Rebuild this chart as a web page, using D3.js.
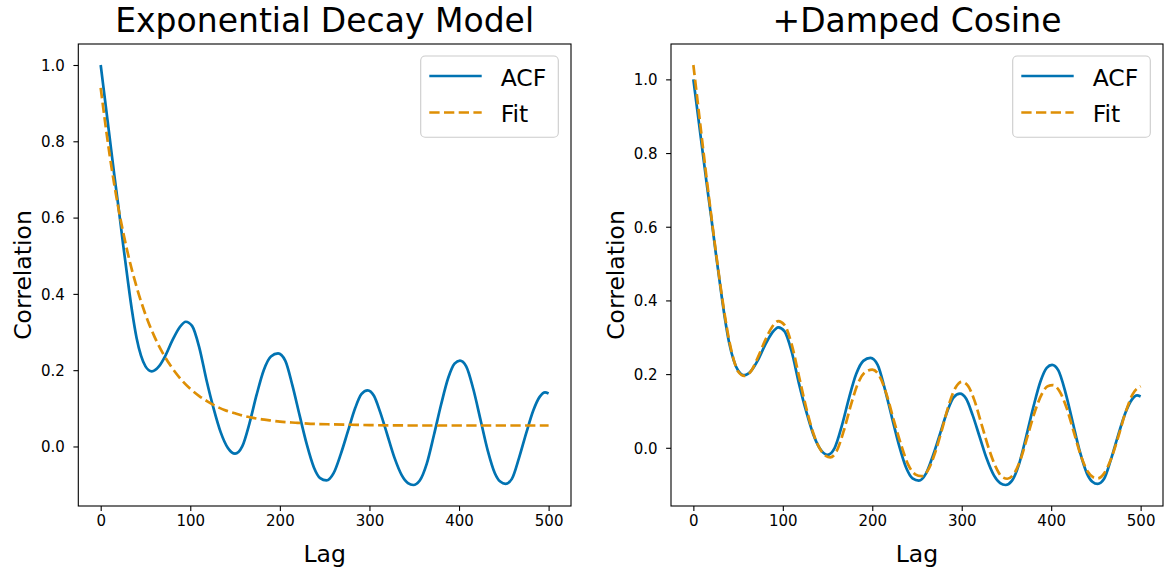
<!DOCTYPE html>
<html>
<head>
<meta charset="utf-8">
<script src="https://cdn.jsdelivr.net/npm/d3@7"></script>
<style>
  html, body { margin: 0; padding: 0; background: #fff; }
  svg { display: block; font-family: "DejaVu Sans", sans-serif; }
</style>
</head>
<body>
<svg id="chart" width="1172" height="575"></svg>
<script>
// ---------- data ----------
const acfLags = [0,5,10,15,20,25,30,35,40,45,50,57,65,72,80,88,95,102,110,118,126,134,142,150,158,166,174,182,190,198,206,214,222,230,238,245,252,260,268,276,284,291,298,305,312,320,328,336,343,349,356,364,372,380,388,395,401,408,416,424,432,440,446,452,459,467,475,483,490,496,500];
const acfValues = [1.000,0.905,0.810,0.715,0.625,0.530,0.440,0.355,0.285,0.238,0.210,0.197,0.210,0.237,0.278,0.312,0.327,0.316,0.260,0.175,0.100,0.037,-0.004,-0.019,0.000,0.060,0.135,0.200,0.236,0.244,0.225,0.160,0.082,0.006,-0.055,-0.083,-0.089,-0.070,-0.020,0.040,0.100,0.137,0.147,0.133,0.090,0.030,-0.030,-0.075,-0.096,-0.101,-0.090,-0.045,0.030,0.110,0.180,0.217,0.225,0.210,0.150,0.070,-0.010,-0.070,-0.092,-0.098,-0.085,-0.030,0.035,0.095,0.130,0.142,0.139];

const expFitLags = [0,10,20,30,40,50,60,70,80,90,100,110,120,130,140,150,160,170,180,190,200,220,240,260,280,300,350,400,450,500];
const expFitValues = [0.940,0.764,0.622,0.509,0.419,0.346,0.288,0.242,0.205,0.175,0.151,0.132,0.117,0.104,0.094,0.087,0.080,0.075,0.071,0.068,0.065,0.062,0.059,0.058,0.057,0.056,0.055,0.055,0.055,0.055];

const cosFitLags = [0,5,10,15,20,25,30,35,40,45,50,57,65,72,80,88,95,102,110,118,126,134,142,148,153,160,168,176,184,192,200,208,216,224,232,240,248,255,262,270,278,286,293,300,307,314,322,330,338,345,351,358,366,374,382,390,396,402,409,417,425,433,441,447,452,459,467,475,483,491,500];
const cosFitValues = [1.039,0.935,0.830,0.728,0.630,0.535,0.445,0.362,0.292,0.240,0.207,0.195,0.210,0.245,0.290,0.328,0.344,0.333,0.280,0.195,0.110,0.040,-0.005,-0.022,-0.026,-0.010,0.045,0.115,0.175,0.205,0.212,0.195,0.145,0.075,0.010,-0.045,-0.072,-0.077,-0.062,-0.015,0.050,0.120,0.163,0.179,0.168,0.130,0.065,0.000,-0.052,-0.079,-0.084,-0.072,-0.030,0.035,0.100,0.148,0.167,0.170,0.155,0.110,0.045,-0.020,-0.065,-0.080,-0.083,-0.070,-0.030,0.030,0.095,0.145,0.167];

const panelTitles = ["Exponential Decay Model", "+Damped Cosine"];
const xTicks = [0, 100, 200, 300, 400, 500];
const yTicks = [0.0, 0.2, 0.4, 0.6, 0.8, 1.0];
const legendLabels = ["ACF", "Fit"];

// ---------- styling ----------
const BLUE = "#0173B2";
const ORANGE = "#DE8F05";
const svg = d3.select("#chart");

const panels = [
  { x0: 78.3, x1: 571, fitLags: expFitLags, fitValues: expFitValues, title: panelTitles[0] },
  { x0: 671, x1: 1163, fitLags: cosFitLags, fitValues: cosFitValues, title: panelTitles[1] }
];
const y0 = 44, y1 = 506;

panels.forEach(p => {
  const acf = acfLags.map((l, i) => ({ x: l, y: acfValues[i] }));
  const fit = p.fitLags.map((l, i) => ({ x: l, y: p.fitValues[i] }));

  const x = d3.scaleLinear().domain([-25, 525]).range([p.x0, p.x1]);
  const all = acf.concat(fit).map(d => d.y);
  const lo = d3.min(all), hi = d3.max(all), pad = (hi - lo) * 0.05;
  const y = d3.scaleLinear().domain([lo - pad, hi + pad]).range([y1, y0]);

  const g = svg.append("g");

  // clip
  const clipId = "clip" + Math.round(p.x0);
  svg.append("clipPath").attr("id", clipId)
    .append("rect").attr("x", p.x0).attr("y", y0).attr("width", p.x1 - p.x0).attr("height", y1 - y0);

  const line = d3.line().x(d => x(d.x)).y(d => y(d.y)).curve(d3.curveMonotoneX);

  const plot = g.append("g").attr("clip-path", `url(#${clipId})`);
  plot.append("path").datum(acf).attr("d", line)
    .attr("fill", "none").attr("stroke", BLUE).attr("stroke-width", 2.7)
    .attr("stroke-linejoin", "round").attr("stroke-linecap", "butt");
  plot.append("path").datum(fit).attr("d", line)
    .attr("fill", "none").attr("stroke", ORANGE).attr("stroke-width", 2.7)
    .attr("stroke-dasharray", "10.3,4.4");

  // axes
  const xAxis = d3.axisBottom(x).tickValues(xTicks).tickFormat(d3.format("d"))
    .tickSizeInner(4.9).tickSizeOuter(0).tickPadding(4.5);
  const gx = g.append("g").attr("transform", `translate(0,${y1})`).call(xAxis);
  const yAxis = d3.axisLeft(y).tickValues(yTicks).tickFormat(d3.format(".1f"))
    .tickSizeInner(4.9).tickSizeOuter(0).tickPadding(8.5);
  const gy = g.append("g").attr("transform", `translate(${p.x0},0)`).call(yAxis);
  [gx, gy].forEach(a => {
    a.select(".domain").remove();
    a.selectAll(".tick line").attr("stroke", "#000").attr("stroke-width", 1.1);
    a.selectAll(".tick text").attr("font-size", "15px").attr("fill", "#000")
      .attr("font-family", "'DejaVu Sans', sans-serif");
  });
  gy.selectAll(".tick text").attr("dy", "0.36em");

  // frame
  g.append("rect").attr("x", p.x0).attr("y", y0).attr("width", p.x1 - p.x0).attr("height", y1 - y0)
    .attr("fill", "none").attr("stroke", "#000").attr("stroke-width", 1.1);

  const cx = (p.x0 + p.x1) / 2;
  // title
  g.append("text").attr("x", cx).attr("y", 32).attr("text-anchor", "middle")
    .attr("font-size", "33px").attr("fill", "#000").text(p.title);
  // x label
  g.append("text").attr("x", cx).attr("y", 562).attr("text-anchor", "middle")
    .attr("font-size", "23.5px").attr("fill", "#000").text("Lag");
  // y label
  g.append("text").attr("transform", `translate(${p.x0 - 47},${(y0 + y1) / 2}) rotate(-90)`)
    .attr("text-anchor", "middle").attr("font-size", "23.5px").attr("fill", "#000").text("Correlation");

  // legend
  const bw = 137.6, bh = 81.3;
  const bx = p.x1 - 12.7 - bw, by = y0 + 12;
  const lg = g.append("g");
  lg.append("rect").attr("x", bx).attr("y", by).attr("width", bw).attr("height", bh)
    .attr("rx", 4.5).attr("ry", 4.5)
    .attr("fill", "#fff").attr("fill-opacity", 0.8).attr("stroke", "#cccccc").attr("stroke-width", 1.1);
  const items = [
    { label: legendLabels[0], color: BLUE, dash: null, yy: by + 20 },
    { label: legendLabels[1], color: ORANGE, dash: "10.3,4.4", yy: by + 56.5 }
  ];
  items.forEach(it => {
    const l = lg.append("line").attr("x1", bx + 8.6).attr("x2", bx + 61).attr("y1", it.yy).attr("y2", it.yy)
      .attr("stroke", it.color).attr("stroke-width", 2.7);
    if (it.dash) l.attr("stroke-dasharray", it.dash);
    lg.append("text").attr("x", bx + 80).attr("y", it.yy + 9.5)
      .attr("font-size", "23.5px").attr("fill", "#000").text(it.label);
  });
});
</script>
</body>
</html>
